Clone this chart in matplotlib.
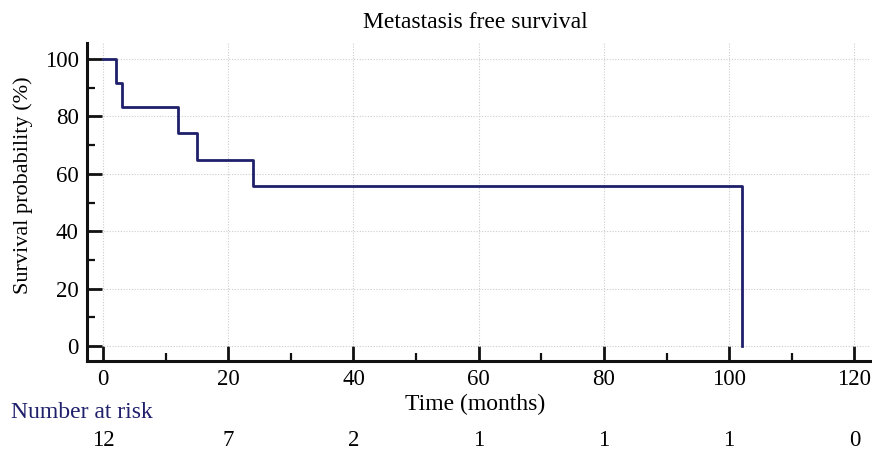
import numpy as np
import matplotlib.pyplot as plt
import matplotlib.transforms as mtransforms

plt.rcParams['font.family'] = ['Liberation Serif', 'DejaVu Serif']

# Kaplan-Meier steps (months, survival %)
times = [0, 2, 3, 12, 15, 24, 102, 102]
surv = [100, 91.7, 83.3, 74.1, 64.8, 55.6, 55.6, 0]

# Number at risk
risk_times = [0, 20, 40, 60, 80, 100, 120]
risk_counts = [12, 7, 2, 1, 1, 1, 0]

navy = '#1f1f6b'

fig = plt.figure(figsize=(8.72, 4.51), dpi=100)
ax = fig.add_axes([0.0998, 0.1996, 0.8979, 0.7051])

ax.step(times, surv, where='post', color=navy, linewidth=2.0)

ax.set_xlim(-2.55, 122.5)
ax.set_ylim(-5.2, 105.6)
ax.set_xticks(np.arange(0, 121, 20))
ax.set_xticks(np.arange(10, 121, 20), minor=True)
ax.set_yticks(np.arange(0, 101, 20))
ax.set_yticks(np.arange(10, 101, 20), minor=True)

ax.spines['top'].set_visible(False)
ax.spines['right'].set_visible(False)
for s in ['left', 'bottom']:
    ax.spines[s].set_linewidth(2.2)
    ax.spines[s].set_color('#111111')

ax.tick_params(which='major', direction='in', length=11, width=2, labelsize=16.5, pad=6, color='#111111')
ax.tick_params(which='minor', direction='in', length=6, width=1.6, color='#111111')
ax.tick_params(axis='y', which='major', pad=6)

ax.grid(True, which='major', linestyle=(0, (1, 1.5)), color='#cccccc', linewidth=0.8)
ax.set_axisbelow(True)

fig.text(0.545, 0.951, 'Metastasis free survival', ha='center', va='center', fontsize=17)
fig.text(0.545, 0.104, 'Time (months)', ha='center', va='center', fontsize=17)
fig.text(0.026, 0.589, 'Survival probability (%)', ha='center', va='center',
         rotation=90, fontsize=16)

fig.text(0.013, 0.086, 'Number at risk', ha='left', va='center', fontsize=17, color=navy)
trans = mtransforms.blended_transform_factory(ax.transData, fig.transFigure)
for t, n in zip(risk_times, risk_counts):
    ax.text(t, 0.024, str(n), transform=trans, ha='center', va='center',
            fontsize=16.5, clip_on=False)

fig.savefig('out.png', dpi=100)
